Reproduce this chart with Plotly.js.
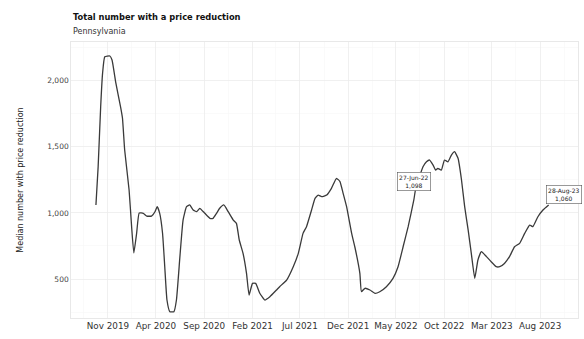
<!DOCTYPE html>
<html>
<head>
<meta charset="utf-8">
<script src="https://cdn.plot.ly/plotly-3.0.1.min.js"></script>
<style>html,body{margin:0;padding:0;background:#fff;}#chart{width:584px;height:339px;}</style>
</head>
<body>
<div id="chart"></div>
<script>
const dates = [
"2019-09-24","2019-10-01","2019-10-09","2019-10-15","2019-10-22","2019-11-07","2019-11-14","2019-11-26",
"2019-12-11","2019-12-17","2019-12-24","2020-01-07","2020-01-15","2020-01-22","2020-01-31","2020-02-08",
"2020-02-21","2020-03-03","2020-03-18","2020-03-29","2020-04-05","2020-04-13","2020-04-22","2020-04-29",
"2020-05-06","2020-05-15","2020-05-28","2020-06-05","2020-06-16","2020-06-26","2020-07-07","2020-07-17",
"2020-07-28","2020-08-08","2020-08-18","2020-09-03","2020-09-19","2020-09-29","2020-10-10","2020-10-20",
"2020-11-02","2020-11-16","2020-12-02","2020-12-12","2020-12-21","2021-01-02","2021-01-13","2021-01-21",
"2021-02-01","2021-02-11","2021-02-24","2021-03-12","2021-03-28","2021-04-18","2021-04-28","2021-05-20",
"2021-06-10","2021-06-26","2021-07-11","2021-07-22","2021-08-07","2021-08-18","2021-08-28","2021-09-08",
"2021-09-24","2021-10-09","2021-10-25","2021-11-05","2021-11-15","2021-11-26","2021-12-12","2021-12-22",
"2022-01-07","2022-01-12","2022-01-23","2022-02-08","2022-02-24","2022-03-11","2022-04-01","2022-04-22",
"2022-05-08","2022-05-24","2022-06-09","2022-06-27","2022-07-03","2022-07-26","2022-08-06","2022-08-16",
"2022-08-27","2022-09-04","2022-09-11","2022-09-22","2022-10-02","2022-10-13","2022-10-24","2022-11-03",
"2022-11-14","2022-11-25","2022-12-05","2022-12-16","2022-12-26","2023-01-06","2023-01-16","2023-01-27",
"2023-02-12","2023-02-27","2023-03-15","2023-03-26","2023-04-10","2023-04-26","2023-05-12","2023-05-28",
"2023-06-13","2023-06-29","2023-07-09","2023-07-25","2023-08-10","2023-08-28"
];
const priceReduced = [
1060,1350,1803,2056,2181,2187,2157,1983,
1803,1718,1476,1173,896,697,848,999,
997,976,976,1009,1047,997,846,593,
341,253,253,341,669,946,1047,1060,
1022,1009,1035,997,959,959,997,1035,
1060,1009,946,921,795,694,543,379,
467,467,392,341,366,417,442,492,
593,694,845,896,1022,1110,1135,1123,
1135,1186,1262,1237,1148,1047,845,744,
543,404,430,417,392,404,442,505,
593,744,896,1098,1186,1349,1387,1400,
1362,1324,1337,1324,1400,1387,1438,1463,
1413,1249,1047,871,694,505,644,707,
669,631,593,593,618,669,744,770,
845,908,896,971,1022,1060
];
const tickVals = ["2019-11-01","2020-04-01","2020-09-01","2021-02-01","2021-07-01","2021-12-01","2022-05-01","2022-10-01","2023-03-01","2023-08-01"];
const tickText = ["Nov 2019","Apr 2020","Sep 2020","Feb 2021","Jul 2021","Dec 2021","May 2022","Oct 2022","Mar 2023","Aug 2023"];
const yTickVals = [500,1000,1500,2000];
const yTickText = ["500","1,000","1,500","2,000"];
const labelDates = ["2022-06-27","2023-08-28"];
const labelValues = [1098,1060];
const labelTexts = ["27-Jun-22<br>1,098","28-Aug-23<br>1,060"];

const font = "DejaVu Sans, Liberation Sans, sans-serif";

const trace = {
  x: dates, y: priceReduced, type: "scatter", mode: "lines",
  line: {color: "#3a3a3a", width: 1.3, shape: "spline", smoothing: 0.4},
  hoverinfo: "skip"
};

const annotations = [
  {xref:"paper", yref:"paper", x:0, y:1 + 11/276, xshift:0, xanchor:"left", yanchor:"middle",
   text:"Pennsylvania", showarrow:false, font:{family:font, size:8, color:"#333"}},
  {x: labelDates[0], y: labelValues[0], xref:"x", yref:"y", text: labelTexts[0], showarrow:false,
   xanchor:"center", yanchor:"bottom", yshift:9, bgcolor:"#fff", bordercolor:"#555", borderwidth:0.6, borderpad:1.5,
   font:{family:font, size:6, color:"#222"}},
  {x: labelDates[1], y: labelValues[1], xref:"x", yref:"y", text: labelTexts[1], showarrow:false,
   xanchor:"left", yanchor:"bottom", xshift:-3, yshift:1, bgcolor:"#fff", bordercolor:"#555", borderwidth:0.6, borderpad:1.5,
   font:{family:font, size:6, color:"#222"}}
];

const layout = {
  width: 584, height: 339,
  margin: {l: 71, r: 6, t: 42, b: 21, pad: 0},
  paper_bgcolor: "#fff", plot_bgcolor: "#fff",
  showlegend: false,
  title: {text: "<b>Total number with a price reduction</b>", xref:"container", yref:"container",
          x: 73/584, xanchor:"left", y: 1-17/339, yanchor:"middle",
          font: {family: font, size: 8.3, color: "#111"}},
  xaxis: {
    type: "date", range: ["2019-07-07","2023-11-29"],
    tickmode: "array", tickvals: tickVals, ticktext: tickText,
    tickfont: {family: font, size: 8.8, color: "#333"}, tickangle: 0,
    showgrid: true, gridcolor: "#ececec", gridwidth: 0.8,
    minor: {showgrid: true, gridcolor: "#f6f6f6", gridwidth: 0.6, tick0: "2020-01-16", dtick: "M5", ticks: ""},
    showline: true, mirror: true, linecolor: "#e2e2e2", linewidth: 0.8,
    ticks: "", zeroline: false, automargin: false
  },
  yaxis: {
    range: [205, 2293],
    tickmode: "array", tickvals: yTickVals, ticktext: yTickText,
    tickfont: {family: font, size: 7.5, color: "#444"},
    showgrid: true, gridcolor: "#ececec", gridwidth: 0.8,
    minor: {showgrid: true, gridcolor: "#f6f6f6", gridwidth: 0.6, tick0: 250, dtick: 500, ticks: ""},
    showline: true, mirror: true, linecolor: "#e2e2e2", linewidth: 0.8,
    ticks: "", zeroline: false, automargin: false,
    title: {text: "Median number with price reduction", font: {family: font, size: 8, color: "#222"}, standoff: 22}
  },
  annotations: annotations
};

Plotly.newPlot("chart", [trace], layout, {displayModeBar: false, staticPlot: true});
</script>
</body>
</html>
